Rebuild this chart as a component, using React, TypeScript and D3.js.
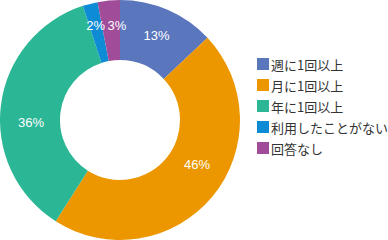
import React from "react";
import * as d3 from "d3";

const categories = ["週に1回以上", "月に1回以上", "年に1回以上", "利用したことがない", "回答なし"];
const values = [13, 46, 36, 2, 3];
const labels = ["13%", "46%", "36%", "2%", "3%"];
const colors = ["#5a76bc", "#ec9700", "#2bb696", "#0e8bd5", "#a14c98"];

const W = 388;
const H = 240;
const cx = 120;
const cy = 120;
const outerR = 120;
const innerR = 60;
// label placement: radius and small angular nudges (degrees)
const labelRadius = [92, 89, 89, 98, 95];
const labelNudge = [0, -9.5, -9, 0, 3.5];

export default function App() {
  const pie = d3.pie<number>().sort(null).value((d) => d)(values);
  const arc = d3.arc<d3.PieArcDatum<number>>().innerRadius(innerR).outerRadius(outerR);
  const font = "'Noto Sans CJK JP', 'Noto Sans', sans-serif";
  const legendY = d3.scaleLinear().domain([0, categories.length - 1]).range([64, 148]);
  return (
    <svg width={W} height={H} style={{ position: "absolute", left: 0, top: 0 }}>
      <g transform={`translate(${cx},${cy})`}>
        {pie.map((p, i) => (
          <path key={i} d={arc(p) || ""} fill={colors[i]} />
        ))}
        {pie.map((p, i) => {
          const a = (p.startAngle + p.endAngle) / 2 + (labelNudge[i] * Math.PI) / 180;
          const r = labelRadius[i];
          return (
            <text
              key={i}
              x={Math.sin(a) * r}
              y={-Math.cos(a) * r}
              textAnchor="middle"
              dominantBaseline="central"
              fill="#fff"
              fontSize={13}
              fontFamily="'Liberation Sans', Arial, sans-serif"
            >
              {labels[i]}
            </text>
          );
        })}
      </g>
      {categories.map((c, i) => {
        const y = legendY(i);
        return (
          <g key={i}>
            <rect x={257} y={y - 6} width={12} height={12} fill={colors[i]} />
            <text x={271} y={y} dominantBaseline="central" fontSize={13} fill="#333" fontFamily={font}>
              {c}
            </text>
          </g>
        );
      })}
    </svg>
  );
}
